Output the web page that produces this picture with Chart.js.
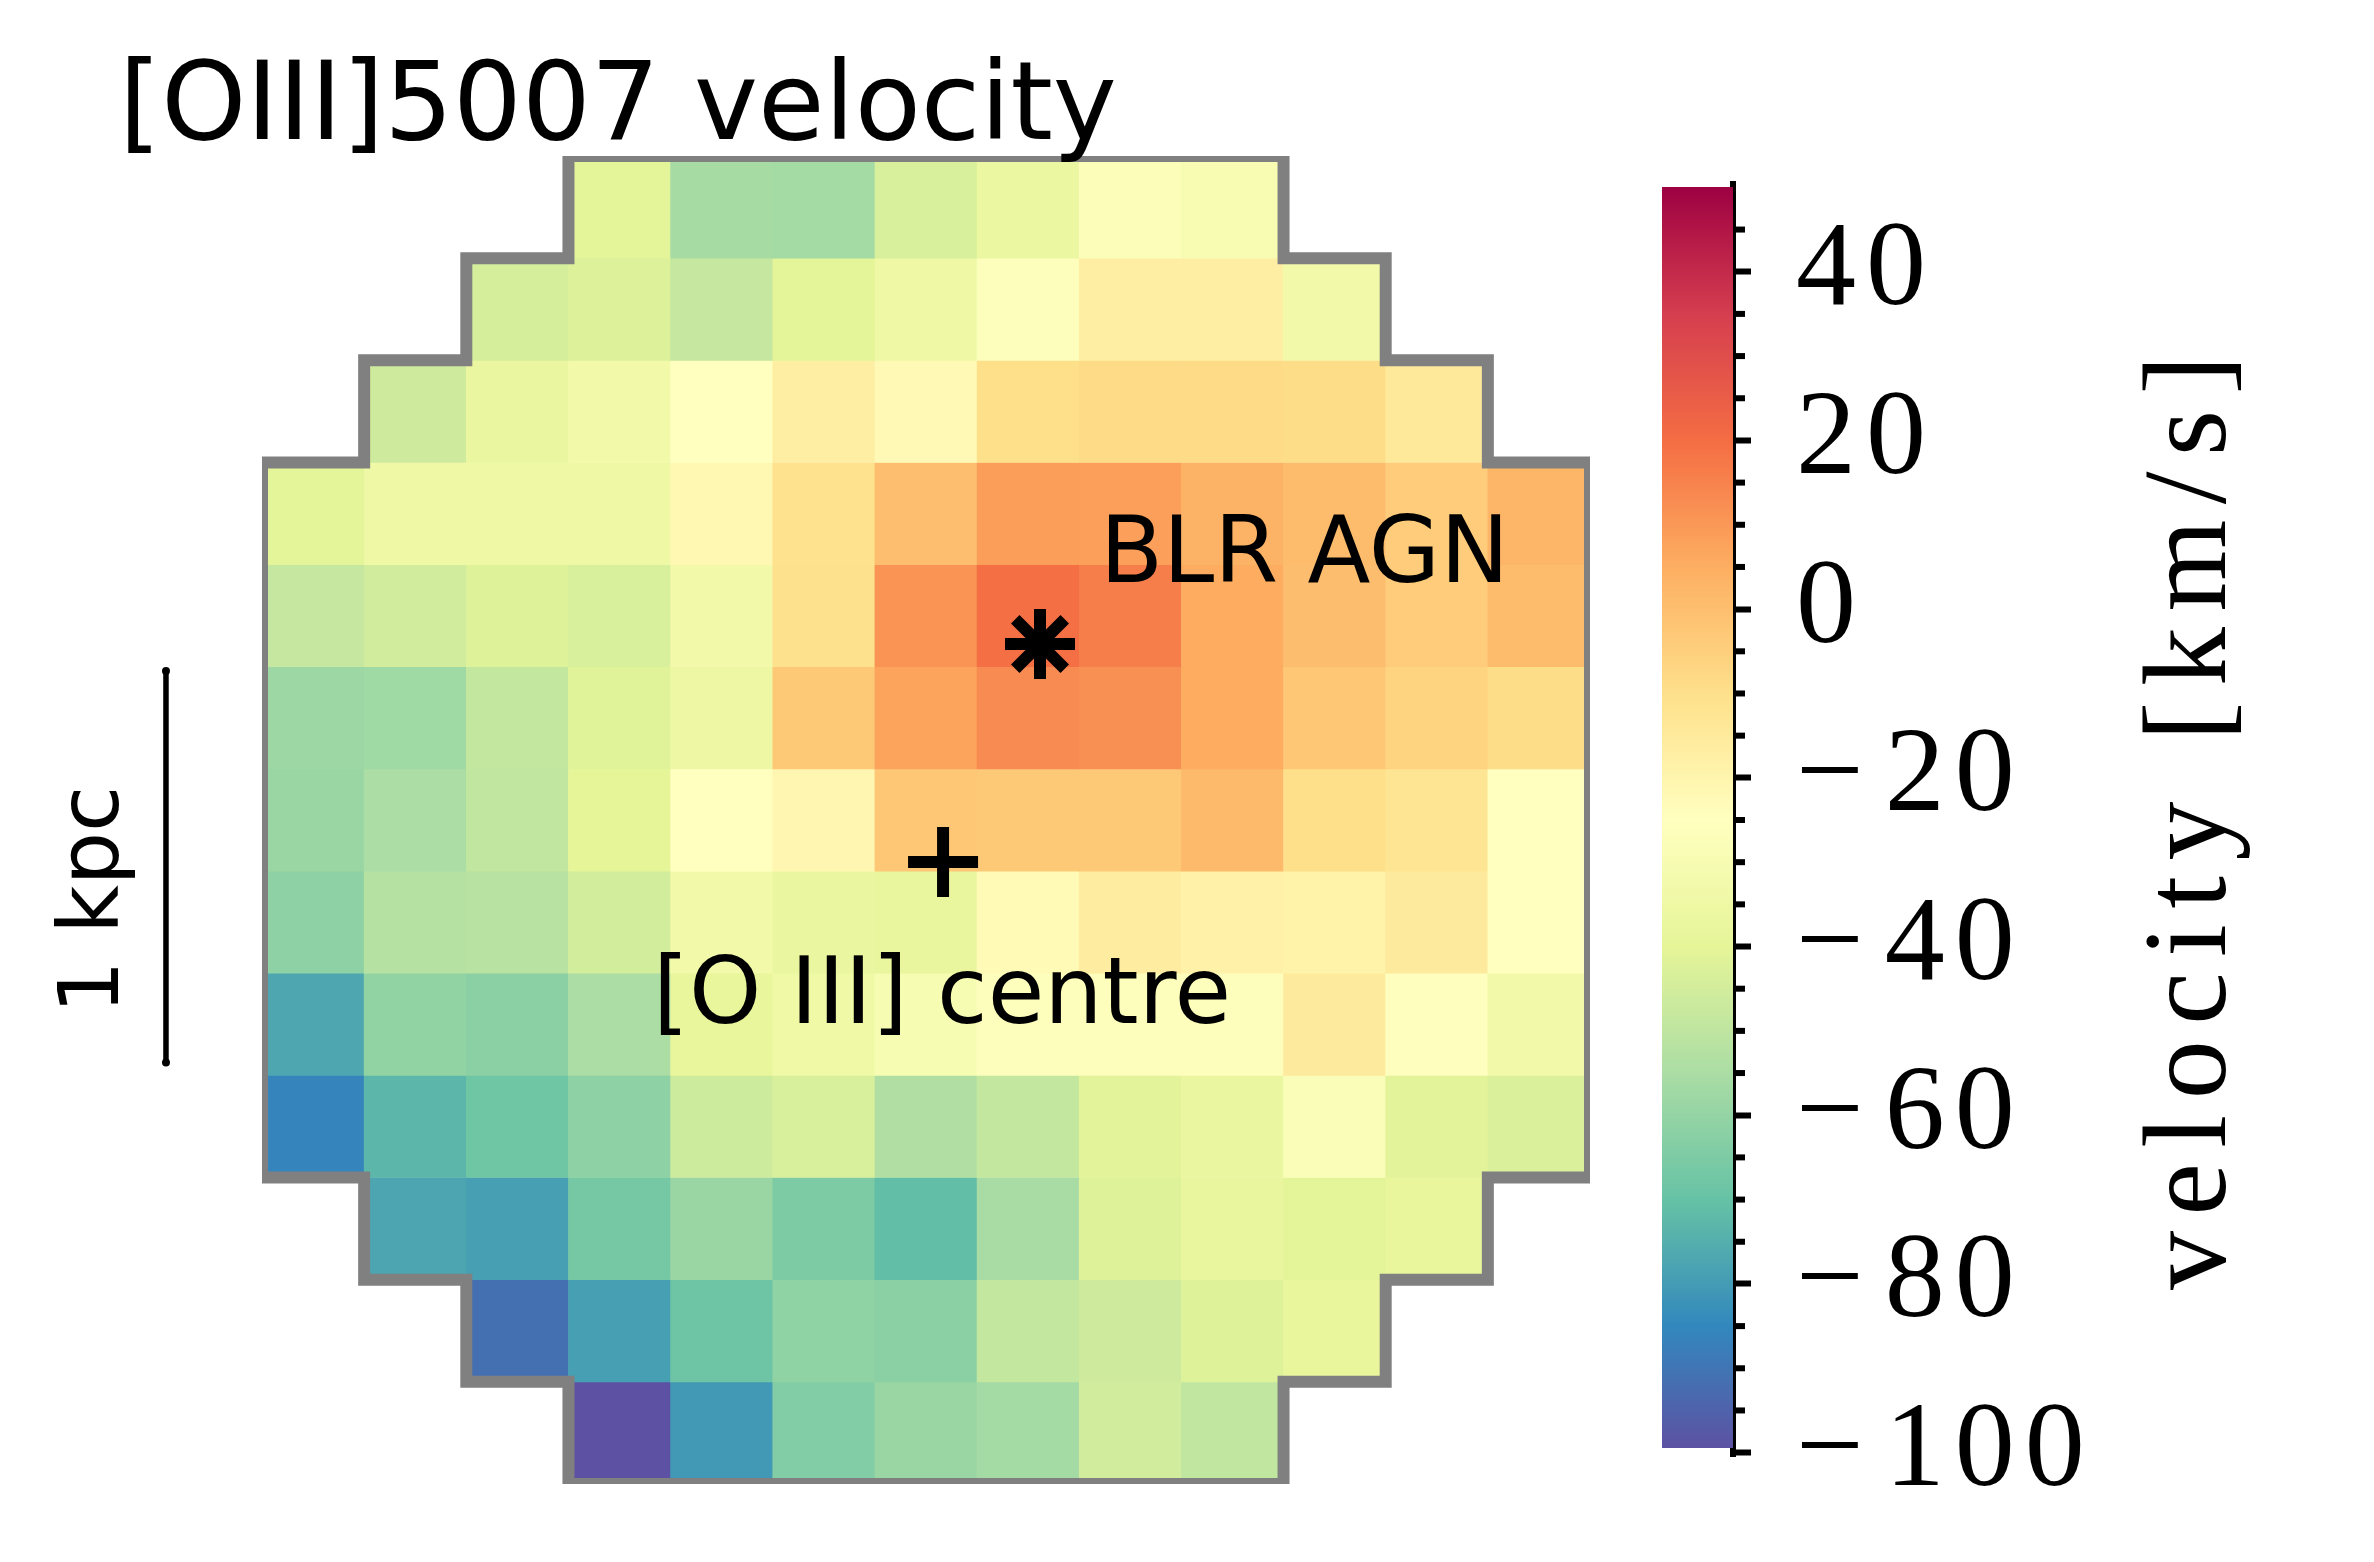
<!DOCTYPE html>
<html>
<head>
<meta charset="utf-8">
<title>[OIII]5007 velocity</title>
<script src="https://cdn.jsdelivr.net/npm/chart.js@4/dist/chart.umd.min.js"></script>
<style>
    html, body { margin: 0; background: #ffffff; }
    #wrap { position: relative; width: 2374px; height: 1562px; overflow: hidden; }
    canvas { position: absolute; top: 0; }
    #mapChart { left: 0; }
    #barChart { left: 1600px; }
</style>
</head>
<body>
<div id="wrap">
    <canvas id="mapChart" width="1640" height="1562"></canvas>
    <canvas id="barChart" width="774" height="1562"></canvas>
</div>
<script>
const n = null;
const row00 = [n, n, n, -40.5, -56, -56.5, -43.5, -36.5, -27.5, -30, n, n, n];
const row01 = [n, n, -44.5, -42.5, -48.5, -40.5, -35, -26.5, -17, -17, -33, n, n];
const row02 = [n, -46, -37, -33, -25, -17, -22, -10, -8.5, -8.5, -9, -14.5, n];
const row03 = [-40.5, -35, -35, -35, -21.5, -11, 0, 8.7, 8.5, 3.5, 1, -4, 3];
const row04 = [-48.5, -45.5, -42, -43.5, -33, -10.5, 11, 19.5, 16, 5.5, 0.5, -4, 1];
const row05 = [-58, -57.5, -49, -41.5, -35.5, -3, 7.5, 13, 12, 5.5, -2.5, -6.5, -9];
const row06 = [-59, -55, -49.5, -40, -25, -21, -2.5, -3, -3, 1.5, -10, -12.5, -25];
const row07 = [-61.5, -52.5, -52, -45, -33, -37, -38, -22.5, -16, -18.5, -19, -15, -25];
const row08 = [-77, -60.5, -62, -55, -38.5, -34.5, -29.5, -26.5, -26, -26, -15, -25.5, -33];
const row09 = [-86, -73, -68, -61.5, -46.5, -43.5, -53.5, -49, -41, -37, -28, -41, -43];
const row10 = [n, -77.5, -79, -66.5, -59, -65, -71, -55.5, -42, -38, -40.5, -38.5, n];
const row11 = [n, n, -91.3, -79, -68.5, -61, -62, -49, -46, -42, -38.5, n, n];
const row12 = [n, n, n, -99.4, -80.5, -64, -59, -56.5, -45.5, -49.5, n, n, n];
const velocityRows = [row00, row01, row02, row03, row04, row05, row06, row07, row08, row09, row10, row11, row12];

const blrPosition = [{ x: 7.616, y: 4.777 }];
const o3Position = [{ x: 6.667, y: 6.911 }];
const scaleBarEnds = [{ x: -0.94, y: 5.042 }, { x: -0.94, y: 8.874 }];

const colorbarRange = [-99.4, 50];
const majorTicks = [-100, -80, -60, -40, -20, 0, 20, 40];
const minorTicks = [-95, -90, -85, -75, -70, -65, -55, -50, -45, -35, -30, -25, -15, -10, -5, 5, 10, 15, 25, 30, 35, 45];

// matplotlib Spectral_r
const spectralStops = ['#5e4fa2', '#3288bd', '#66c2a5', '#abdda4', '#e6f598', '#ffffbf', '#fee08b', '#fdae61', '#f46d43', '#d53e4f', '#9e0142'];
const vmin = -100;
const vmax = 50;

function hexToRgb(hex) {
    return [1, 3, 5].map(i => parseInt(hex.slice(i, i + 2), 16));
}

function velocityColor(v) {
    const t = Math.min(Math.max((v - vmin) / (vmax - vmin), 0), 1) * (spectralStops.length - 1);
    const i = Math.min(Math.floor(t), spectralStops.length - 2);
    const a = hexToRgb(spectralStops[i]);
    const b = hexToRgb(spectralStops[i + 1]);
    const c = a.map((ca, k) => Math.round(ca + (b[k] - ca) * (t - i)));
    return `rgb(${c[0]}, ${c[1]}, ${c[2]})`;
}

// stepped outline of the valid spaxels, walked from the mask
function outlinePoints() {
    const left = [];
    const right = [];
    velocityRows.forEach((row, r) => {
        const first = row.findIndex(v => v !== null);
        const last = row.length - 1 - [...row].reverse().findIndex(v => v !== null);
        right.push({ x: last + 1, y: r }, { x: last + 1, y: r + 1 });
        left.push({ x: first, y: r }, { x: first, y: r + 1 });
    });
    const pts = right.concat(left.reverse());
    pts.push(pts[0], pts[1]);
    return pts;
}

const textLabels = {
    id: 'textLabels',
    afterDraw(chart, args, opts) {
        const ctx = chart.ctx;
        opts.items.forEach(item => {
            ctx.save();
            ctx.font = item.font;
            ctx.fillStyle = '#000000';
            ctx.textAlign = 'left';
            ctx.textBaseline = 'alphabetic';
            ctx.letterSpacing = item.spacing || '0px';
            ctx.translate(item.x, item.y);
            if (item.vertical) ctx.rotate(-Math.PI / 2);
            ctx.fillText(item.text, 0, 0);
            ctx.restore();
        });
    }
};

// points outside the chart area are skipped by the library, so the bar's end dots go here
const scaleBarDots = {
    id: 'scaleBarDots',
    afterDatasetsDraw(chart) {
        const ctx = chart.ctx;
        ctx.save();
        ctx.fillStyle = '#000000';
        scaleBarEnds.forEach(p => {
            ctx.beginPath();
            ctx.arc(chart.scales.x.getPixelForValue(p.x), chart.scales.y.getPixelForValue(p.y), 4, 0, Math.PI * 2);
            ctx.fill();
        });
        ctx.restore();
    }
};

const mapDatasets = [
    {
        type: 'scatter', label: 'BLR AGN', data: blrPosition, order: 0, clip: false,
        pointStyle: 'star', pointRadius: 35, pointBorderWidth: 12,
        pointBorderColor: '#000000', pointBackgroundColor: '#000000'
    },
    {
        type: 'scatter', label: '[O III] centre', data: o3Position, order: 0, clip: false,
        pointStyle: 'cross', pointRadius: 35, pointBorderWidth: 12,
        pointBorderColor: '#000000', pointBackgroundColor: '#000000'
    },
    {
        type: 'line', label: '1 kpc', data: scaleBarEnds, order: 0, indexAxis: 'y', clip: false,
        borderColor: '#000000', borderWidth: 5.5, pointRadius: 0, tension: 0
    },
    {
        type: 'line', label: 'outline', data: outlinePoints(), order: 1, parsing: false,
        borderColor: '#808080', borderWidth: 12, borderJoinStyle: 'miter',
        pointRadius: 0, tension: 0, fill: false
    }
];

velocityRows.forEach((row, r) => {
    const cols = row.map((v, c) => c).filter(c => row[c] !== null);
    mapDatasets.push({
        type: 'bar',
        label: 'row ' + r,
        order: 2,
        grouped: false,
        barPercentage: 1,
        categoryPercentage: 1,
        borderWidth: 0,
        data: cols.map(c => ({ x: c + 0.5, y: [r, r + 1] })),
        backgroundColor: cols.map(c => velocityColor(row[c]))
    });
});

const ctxMap = document.getElementById('mapChart');
const mapChart = new Chart(ctxMap, {
    data: { datasets: mapDatasets },
    plugins: [scaleBarDots, textLabels],
    options: {
        responsive: false,
        animation: false,
        devicePixelRatio: 1,
        layout: { padding: { left: 262, right: 50, top: 156, bottom: 78 } },
        scales: {
            x: { type: 'linear', min: 0, max: 13, offset: false, display: false },
            y: { type: 'linear', min: 0, max: 13, reverse: true, display: false }
        },
        plugins: {
            legend: { display: false },
            tooltip: { enabled: false },
            textLabels: {
                items: [
                    { text: '[OIII]5007 velocity', x: 119, y: 139, font: '108.2px "DejaVu Sans"' },
                    { text: 'BLR AGN', x: 1100, y: 582, font: '92px "DejaVu Sans"' },
                    { text: '[O III] centre', x: 653, y: 1023, font: '92px "DejaVu Sans"' },
                    { text: '1 kpc', x: 118, y: 1014, font: '84px "DejaVu Sans"', vertical: true }
                ]
            }
        }
    }
});

const barTicks = {
    id: 'barTicks',
    beforeDraw(chart) {
        // tick digits are wider set than Liberation Serif, with a gap after the minus
        chart.ctx.letterSpacing = '10px';
        chart.ctx.wordSpacing = '-29px';
    },
    afterDraw(chart) {
        const ctx = chart.ctx;
        const scale = chart.scales.y;
        ctx.letterSpacing = '0px';
        ctx.wordSpacing = '0px';
        ctx.save();
        ctx.strokeStyle = '#000000';
        ctx.lineWidth = 6;
        minorTicks.forEach(v => {
            const y = scale.getPixelForValue(v);
            ctx.beginPath();
            ctx.moveTo(scale.left, y);
            ctx.lineTo(scale.left + 12, y);
            ctx.stroke();
        });
        ctx.restore();
    }
};

function colorbarFill(context) {
    const chart = context.chart;
    if (!chart.chartArea) return spectralStops[0];
    const scale = chart.scales.y;
    const gradient = chart.ctx.createLinearGradient(0, scale.getPixelForValue(vmin), 0, scale.getPixelForValue(vmax));
    spectralStops.forEach((c, i) => gradient.addColorStop(i / (spectralStops.length - 1), c));
    return gradient;
}

const ctxBar = document.getElementById('barChart');
const barChart = new Chart(ctxBar, {
    type: 'bar',
    data: {
        labels: ['velocity'],
        datasets: [{
            label: 'velocity [km/s]',
            data: [colorbarRange],
            backgroundColor: colorbarFill,
            borderWidth: 0,
            barPercentage: 1,
            categoryPercentage: 1
        }]
    },
    plugins: [barTicks, textLabels],
    options: {
        responsive: false,
        animation: false,
        devicePixelRatio: 1,
        layout: { padding: { left: 62, right: 0, top: 184, bottom: 106 } },
        scales: {
            x: { display: false },
            y: {
                position: 'right',
                min: -100.4,
                max: 50.4,
                // tick padding would otherwise eat into the bottom of the plot area
                afterFit(scale) {
                    scale.width = 641;
                    scale.paddingTop = 0;
                    scale.paddingBottom = 0;
                },
                afterBuildTicks(scale) { scale.ticks = majorTicks.map(v => ({ value: v })); },
                border: { display: true, width: 6, color: '#000000' },
                grid: { drawOnChartArea: false, drawTicks: true, tickLength: 18, tickWidth: 6, tickColor: '#000000' },
                ticks: {
                    autoSkip: false,
                    maxRotation: 0,
                    padding: 45,
                    labelOffset: 1,
                    color: '#000000',
                    font: { family: '"Liberation Serif"', size: 120 },
                    callback: v => (v < 0 ? '\u2212 ' + Math.abs(v) : String(v))
                }
            }
        },
        plugins: {
            legend: { display: false },
            tooltip: { enabled: false },
            textLabels: {
                items: [
                    { text: 'velocity [km/s]', x: 625, y: 1290, font: '118px "Liberation Serif"', spacing: '15.5px', vertical: true }
                ]
            }
        }
    }
});
</script>
</body>
</html>
